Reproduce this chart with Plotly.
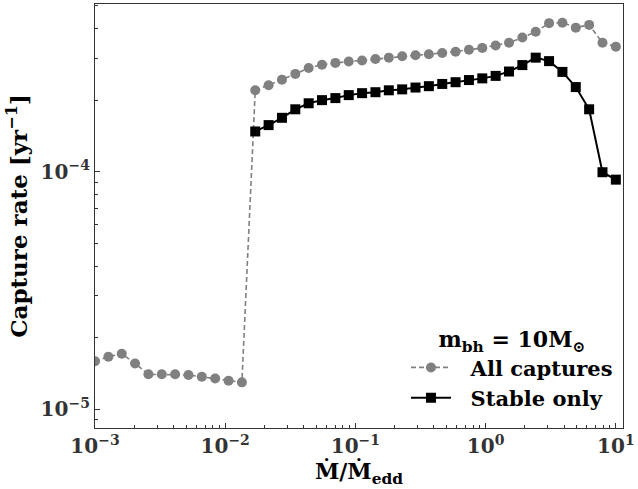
import plotly.graph_objects as go

# Accretion rate in Eddington units (log-spaced grid)
mdot = [0.001000, 0.001267, 0.001604, 0.002031, 0.002572, 0.003257, 0.004125,
        0.005223, 0.006614, 0.008376, 0.01061, 0.01343, 0.01701, 0.02154,
        0.02728, 0.03455, 0.04375, 0.05540, 0.07017, 0.08886, 0.1125, 0.1425,
        0.1805, 0.2286, 0.2894, 0.3665, 0.4642, 0.5878, 0.7444, 0.9427, 1.194,
        1.512, 1.914, 2.424, 3.070, 3.888, 4.924, 6.236, 7.897, 10.0]

# Capture rate for all captures [1/yr]
rate_all = [1.59e-5, 1.66e-5, 1.71e-5, 1.556e-5, 1.40e-5, 1.40e-5, 1.40e-5,
            1.39e-5, 1.367e-5, 1.345e-5, 1.315e-5, 1.295e-5,
            2.20e-4, 2.31e-4, 2.44e-4, 2.58e-4, 2.73e-4, 2.82e-4, 2.87e-4,
            2.91e-4, 2.94e-4, 2.98e-4, 3.02e-4, 3.06e-4, 3.09e-4, 3.12e-4,
            3.16e-4, 3.20e-4, 3.26e-4, 3.32e-4, 3.40e-4, 3.49e-4, 3.67e-4,
            3.88e-4, 4.22e-4, 4.24e-4, 4.04e-4, 4.15e-4, 3.49e-4, 3.36e-4]

# Stable captures only (defined from mdot index 12 onward)
mdot_stable = mdot[12:]
rate_stable = [1.476e-4, 1.57e-4, 1.685e-4, 1.83e-4, 1.94e-4, 2.00e-4, 2.04e-4,
               2.10e-4, 2.14e-4, 2.16e-4, 2.20e-4, 2.22e-4, 2.26e-4, 2.29e-4,
               2.34e-4, 2.38e-4, 2.43e-4, 2.47e-4, 2.53e-4, 2.64e-4, 2.81e-4,
               3.02e-4, 2.92e-4, 2.63e-4, 2.27e-4, 1.83e-4, 9.94e-5, 9.25e-5]

x_ticks = [1e-3, 1e-2, 1e-1, 1e0, 1e1]
x_labels = ["10<sup>−3</sup>", "10<sup>−2</sup>", "10<sup>−1</sup>",
            "10<sup>0</sup>", "10<sup>1</sup>"]
y_ticks = [1e-5, 1e-4]
y_labels = ["10<sup>−5</sup>", "10<sup>−4</sup>"]


def minor_positions(decades):
    """Minor log ticks at 2..9 times each decade."""
    return [m * 10.0 ** d for d in decades for m in range(2, 10)]


FONT = "DejaVu Serif"
AXIS_COL = "#333333"

fig = go.Figure()
fig.add_trace(go.Scatter(
    x=mdot, y=rate_all, mode="lines+markers", name="\u00a0\u00a0All captures",
    legendgroup="a",
    line=dict(color="#808080", width=1.6, dash="5px,3px"),
    marker=dict(symbol="circle", size=10, color="#808080"),
))
fig.add_trace(go.Scatter(
    x=mdot_stable, y=rate_stable, mode="lines+markers",
    name="\u00a0\u00a0Stable only", legendgroup="b",
    line=dict(color="black", width=2),
    marker=dict(symbol="square", size=10, color="black"),
))

axis_common = dict(
    type="log", showline=True, linecolor=AXIS_COL, linewidth=1.2, mirror=True,
    showgrid=False, zeroline=False, ticks="inside", ticklen=5, tickwidth=1,
    tickcolor=AXIS_COL, ticklabeloverflow="allow",
    tickfont=dict(family=FONT, size=20, weight="bold", color=AXIS_COL),
)
minor_common = dict(ticks="inside", ticklen=3, tickwidth=0.8,
                    tickcolor=AXIS_COL, showgrid=False)

fig.update_xaxes(
    **axis_common, range=[-3, 1.055], tickvals=x_ticks, ticktext=x_labels,
    minor=dict(**minor_common, tickvals=minor_positions(range(-3, 1))),
    title=dict(text="Ṁ/Ṁ<sub>edd</sub>", standoff=0,
               font=dict(family=FONT, size=22, weight="bold", color="black")),
)
fig.update_yaxes(
    **axis_common, range=[-5.08, -3.294], tickvals=y_ticks, ticktext=y_labels,
    minor=dict(**minor_common, tickvals=minor_positions(range(-6, -3))),
    title=dict(text="Capture rate [yr<sup>−1</sup>]", standoff=6,
               font=dict(family=FONT, size=23, weight="bold", color="black")),
)

fig.update_layout(
    width=638, height=489,
    margin=dict(l=95, r=7, t=3, b=61),
    paper_bgcolor="white", plot_bgcolor="white",
    legend=dict(
        x=0.589, y=0.022, xanchor="left", yanchor="bottom",
        bgcolor="rgba(0,0,0,0)", borderwidth=0,
        traceorder="grouped", tracegroupgap=0, itemwidth=40,
        font=dict(family=FONT, size=21, weight="bold", color="black"),
        title=dict(text="m<sub>bh</sub> = 10M<sub>⊙</sub>", side="top center",
                   font=dict(family=FONT, size=22, weight="bold", color="black")),
    ),
)

fig.write_html("out.html")
